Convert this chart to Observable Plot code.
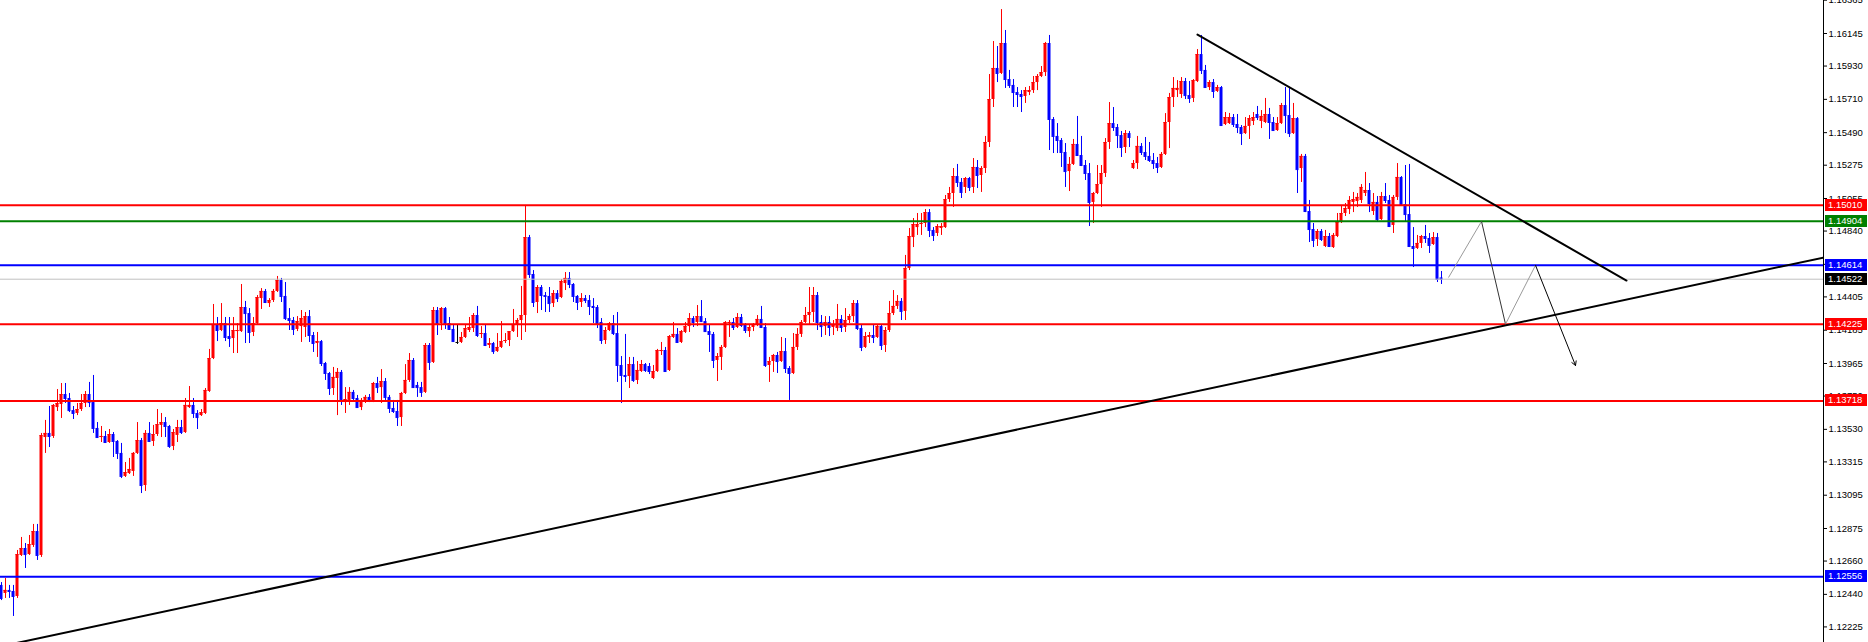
<!DOCTYPE html>
<html><head><meta charset="utf-8">
<script src="https://cdn.jsdelivr.net/npm/d3@7"></script>
<script src="https://cdn.jsdelivr.net/npm/@observablehq/plot@0.6"></script>
<style>body{margin:0;background:#fff}#chart svg{display:block}</style>
</head><body><div id="chart"></div>
<script>
const open = [
1.12499,1.12446,1.12466,1.12459,1.12426,1.12697,1.12743,1.12703,1.12763,1.12855,
1.12697,1.13476,1.13503,1.13483,1.13674,1.13694,1.13760,1.13734,1.13654,1.13635,
1.13661,1.13701,1.13760,1.13707,1.13536,1.13476,1.13483,1.13443,1.13496,1.13450,
1.13371,1.13219,1.13238,1.13252,1.13371,1.13456,1.13159,1.13503,1.13450,1.13496,
1.13556,1.13575,1.13549,1.13417,1.13490,1.13542,1.13509,1.13674,1.13688,1.13635,
1.13621,1.13635,1.13780,1.13998,1.14223,1.14183,1.14229,1.14143,1.14130,1.14176,
1.14176,1.14335,1.14295,1.14170,1.14229,1.14394,1.14441,1.14361,1.14381,1.14441,
1.14513,1.14408,1.14262,1.14249,1.14190,1.14209,1.14203,1.14275,1.14150,1.14097,
1.14110,1.13965,1.13899,1.13800,1.13866,1.13906,1.13707,1.13721,1.13774,1.13734,
1.13674,1.13721,1.13741,1.13721,1.13833,1.13806,1.13846,1.13741,1.13668,1.13648,
1.13608,1.13767,1.13853,1.13985,1.13820,1.13806,1.13774,1.14084,1.13972,1.14315,
1.14229,1.14328,1.14229,1.14190,1.14104,1.14104,1.14137,1.14183,1.14196,1.14282,
1.14157,1.14163,1.14084,1.14097,1.14044,1.14071,1.14110,1.14117,1.14176,1.14223,
1.14249,1.14282,1.14797,1.14553,1.14368,1.14467,1.14414,1.14408,1.14361,1.14427,
1.14401,1.14493,1.14527,1.14487,1.14408,1.14368,1.14394,1.14381,1.14342,1.14335,
1.14236,1.14117,1.14183,1.14229,1.14163,1.13952,1.13886,1.13879,1.13958,1.13853,
1.13912,1.13958,1.13945,1.13866,1.13912,1.14044,1.14051,1.13919,1.14137,1.14157,
1.14104,1.14170,1.14209,1.14262,1.14236,1.14275,1.14242,1.14176,1.14157,1.13985,
1.14005,1.14071,1.14229,1.14236,1.14203,1.14269,1.14216,1.14176,1.14203,1.14223,
1.14256,1.14203,1.13952,1.13978,1.14018,1.13978,1.14044,1.13932,1.13899,1.14071,
1.14157,1.14236,1.14282,1.14302,1.14414,1.14236,1.14209,1.14236,1.14203,1.14196,
1.14256,1.14203,1.14249,1.14275,1.14361,1.14196,1.14071,1.14137,1.14150,1.14137,
1.14209,1.14084,1.14183,1.14295,1.14342,1.14375,1.14309,1.14593,1.14797,1.14863,
1.14883,1.14890,1.14962,1.14844,1.14824,1.14857,1.14863,1.15048,1.15088,1.15200,
1.15161,1.15128,1.15187,1.15128,1.15260,1.15207,1.15253,1.15425,1.15709,1.15914,
1.15881,1.16079,1.15841,1.15802,1.15755,1.15742,1.15729,1.15755,1.15768,1.15821,
1.15861,1.15887,1.16079,1.15577,1.15465,1.15438,1.15359,1.15233,1.15280,1.15412,
1.15339,1.15273,1.15220,1.15029,1.15088,1.15147,1.15220,1.15425,1.15550,1.15524,
1.15471,1.15392,1.15484,1.15253,1.15286,1.15399,1.15359,1.15333,1.15306,1.15286,
1.15260,1.15346,1.15557,1.15722,1.15768,1.15742,1.15828,1.15735,1.15716,1.15828,
1.16006,1.15901,1.15788,1.15821,1.15762,1.15788,1.15544,1.15550,1.15590,1.15544,
1.15524,1.15484,1.15531,1.15564,1.15610,1.15564,1.15557,1.15610,1.15557,1.15504,
1.15550,1.15669,1.15603,1.15484,1.15583,1.15253,1.15333,1.14969,1.14850,1.14784,
1.14837,1.14738,1.14804,1.14731,1.14804,1.14896,1.14956,1.14982,1.15029,1.15035,
1.15042,1.15088,1.15108,1.14969,1.15029,1.14916,1.15068,1.15042,1.14877,1.15062,
1.15194,1.15015,1.14949,1.14738,1.14725,1.14758,1.14804,1.14791,1.14751,1.14797,
1.14530];
const high = [
1.12518,1.12545,1.12499,1.12499,1.12730,1.12816,1.12776,1.12829,1.12902,1.12902,
1.13503,1.13589,1.13681,1.13694,1.13793,1.13833,1.13833,1.13767,1.13681,1.13701,
1.13760,1.13780,1.13840,1.13886,1.13575,1.13549,1.13516,1.13529,1.13509,1.13456,
1.13437,1.13311,1.13338,1.13377,1.13575,1.13470,1.13522,1.13575,1.13556,1.13661,
1.13635,1.13608,1.13556,1.13529,1.13589,1.13589,1.13734,1.13813,1.13734,1.13654,
1.13661,1.13800,1.14058,1.14355,1.14269,1.14361,1.14269,1.14269,1.14269,1.14229,
1.14487,1.14375,1.14328,1.14269,1.14414,1.14460,1.14454,1.14394,1.14454,1.14540,
1.14527,1.14500,1.14328,1.14269,1.14275,1.14315,1.14302,1.14315,1.14170,1.14170,
1.14117,1.13972,1.13906,1.13939,1.13932,1.13919,1.13806,1.13806,1.13787,1.13754,
1.13734,1.13754,1.13760,1.13840,1.13873,1.13925,1.13866,1.13754,1.13721,1.13721,
1.13774,1.13958,1.14031,1.13998,1.13840,1.13840,1.14097,1.14097,1.14335,1.14335,
1.14335,1.14335,1.14269,1.14216,1.14216,1.14170,1.14216,1.14269,1.14295,1.14342,
1.14209,1.14216,1.14130,1.14104,1.14163,1.14242,1.14163,1.14176,1.14322,1.14262,
1.14474,1.15009,1.14811,1.14579,1.14480,1.14480,1.14434,1.14467,1.14447,1.14447,
1.14520,1.14566,1.14566,1.14493,1.14414,1.14427,1.14414,1.14414,1.14394,1.14348,
1.14262,1.14203,1.14236,1.14282,1.14302,1.14011,1.14157,1.14005,1.14005,1.13978,
1.13985,1.13965,1.13965,1.13952,1.14058,1.14104,1.14071,1.14150,1.14236,1.14196,
1.14183,1.14236,1.14295,1.14275,1.14348,1.14381,1.14262,1.14216,1.14170,1.14031,
1.14084,1.14242,1.14249,1.14262,1.14295,1.14289,1.14229,1.14216,1.14229,1.14282,
1.14342,1.14229,1.14005,1.14025,1.14038,1.14137,1.14130,1.13945,1.14163,1.14196,
1.14249,1.14335,1.14467,1.14467,1.14434,1.14282,1.14275,1.14275,1.14249,1.14355,
1.14282,1.14328,1.14289,1.14381,1.14381,1.14216,1.14170,1.14170,1.14216,1.14216,
1.14216,1.14203,1.14375,1.14447,1.14414,1.14394,1.14679,1.14857,1.14923,1.14956,
1.14956,1.14982,1.14982,1.14863,1.14883,1.14890,1.15075,1.15128,1.15253,1.15280,
1.15187,1.15194,1.15194,1.15319,1.15306,1.15266,1.15465,1.15874,1.16092,1.16059,
1.16303,1.16165,1.15901,1.15841,1.15788,1.15768,1.15788,1.15795,1.15861,1.15874,
1.15927,1.16086,1.16132,1.15590,1.15550,1.15451,1.15418,1.15326,1.15445,1.15597,
1.15465,1.15306,1.15286,1.15095,1.15273,1.15273,1.15451,1.15689,1.15656,1.15544,
1.15498,1.15504,1.15498,1.15306,1.15465,1.15418,1.15458,1.15425,1.15352,1.15326,
1.15359,1.15616,1.15749,1.15854,1.15834,1.15854,1.15848,1.15828,1.15841,1.16039,
1.16132,1.15934,1.15834,1.15841,1.15802,1.15795,1.15623,1.15617,1.15610,1.15610,
1.15537,1.15590,1.15603,1.15623,1.15663,1.15636,1.15716,1.15650,1.15590,1.15590,
1.15683,1.15788,1.15782,1.15683,1.15590,1.15346,1.15346,1.15042,1.14890,1.14850,
1.14850,1.14844,1.14824,1.14824,1.14956,1.15009,1.15022,1.15068,1.15095,1.15088,
1.15147,1.15227,1.15154,1.15088,1.15068,1.15095,1.15154,1.15075,1.15075,1.15286,
1.15200,1.15273,1.15280,1.14863,1.14811,1.14811,1.14877,1.14824,1.14830,1.14824,
1.14573];
const low = [
1.12399,1.12413,1.12413,1.12294,1.12413,1.12690,1.12611,1.12697,1.12750,1.12664,
1.12684,1.13371,1.13410,1.13470,1.13648,1.13602,1.13701,1.13641,1.13595,1.13621,
1.13648,1.13674,1.13674,1.13503,1.13470,1.13443,1.13437,1.13437,1.13344,1.13331,
1.13205,1.13212,1.13232,1.13219,1.13364,1.13106,1.13120,1.13443,1.13417,1.13483,
1.13476,1.13476,1.13404,1.13390,1.13443,1.13496,1.13503,1.13668,1.13602,1.13529,
1.13615,1.13628,1.13774,1.13991,1.14110,1.14176,1.14110,1.14071,1.14031,1.14031,
1.14170,1.14097,1.14097,1.14143,1.14223,1.14322,1.14361,1.14335,1.14368,1.14434,
1.14368,1.14249,1.14183,1.14150,1.14176,1.14104,1.14137,1.14104,1.14038,1.14005,
1.13945,1.13853,1.13754,1.13754,1.13621,1.13688,1.13635,1.13688,1.13721,1.13668,
1.13654,1.13701,1.13707,1.13707,1.13767,1.13701,1.13721,1.13635,1.13635,1.13549,
1.13549,1.13760,1.13840,1.13800,1.13741,1.13741,1.13767,1.13919,1.13965,1.14150,
1.14183,1.14190,1.14183,1.14104,1.14091,1.14097,1.14130,1.14170,1.14170,1.14137,
1.14130,1.14077,1.14064,1.14025,1.14038,1.14064,1.14097,1.14077,1.14170,1.14137,
1.14117,1.14170,1.14527,1.14335,1.14295,1.14315,1.14302,1.14302,1.14335,1.14368,
1.14394,1.14447,1.14460,1.14368,1.14315,1.14335,1.14361,1.14282,1.14229,1.14196,
1.14091,1.14091,1.14176,1.14150,1.13840,1.13701,1.13840,1.13800,1.13840,1.13826,
1.13906,1.13906,1.13892,1.13859,1.13906,1.14018,1.13906,1.13912,1.14130,1.14097,
1.14097,1.14163,1.14170,1.14203,1.14209,1.14236,1.14170,1.14038,1.13932,1.13846,
1.13919,1.14064,1.14137,1.14183,1.14196,1.14203,1.14163,1.14137,1.14176,1.14209,
1.14196,1.13939,1.13840,1.13906,1.13899,1.13972,1.13899,1.13721,1.13892,1.14051,
1.14137,1.14229,1.14223,1.14236,1.14183,1.14137,1.14150,1.14143,1.14150,1.14176,
1.14170,1.14170,1.14229,1.14236,1.14183,1.14044,1.14064,1.14097,1.14097,1.14130,
1.14051,1.14038,1.14170,1.14282,1.14322,1.14249,1.14249,1.14579,1.14731,1.14811,
1.14811,1.14863,1.14797,1.14771,1.14804,1.14811,1.14857,1.15029,1.14996,1.15128,
1.15055,1.15088,1.15101,1.15088,1.15121,1.15095,1.15220,1.15392,1.15656,1.15821,
1.15874,1.15782,1.15782,1.15656,1.15656,1.15623,1.15683,1.15735,1.15749,1.15768,
1.15854,1.15861,1.15372,1.15352,1.15352,1.15260,1.15128,1.15101,1.15273,1.15333,
1.15266,1.15174,1.14870,1.14890,1.15081,1.14996,1.15194,1.15379,1.15498,1.15385,
1.15326,1.15352,1.15392,1.15247,1.15247,1.15339,1.15306,1.15293,1.15247,1.15220,
1.15253,1.15339,1.15385,1.15656,1.15722,1.15716,1.15709,1.15683,1.15689,1.15821,
1.15874,1.15782,1.15768,1.15716,1.15755,1.15531,1.15537,1.15544,1.15524,1.15484,
1.15405,1.15478,1.15445,1.15537,1.15570,1.15517,1.15550,1.15445,1.15498,1.15498,
1.15544,1.15484,1.15458,1.15478,1.15088,1.15161,1.14962,1.14764,1.14731,1.14738,
1.14771,1.14731,1.14731,1.14725,1.14797,1.14890,1.14936,1.14949,1.14962,1.14996,
1.15022,1.15068,1.14962,1.14943,1.14903,1.14910,1.15022,1.14863,1.14824,1.15042,
1.15009,1.14903,1.14731,1.14599,1.14718,1.14725,1.14758,1.14692,1.14745,1.14500,
1.14487];
const close = [
1.12413,1.12466,1.12459,1.12426,1.12703,1.12743,1.12703,1.12769,1.12855,1.12697,
1.13489,1.13503,1.13483,1.13688,1.13701,1.13760,1.13734,1.13654,1.13635,1.13661,
1.13701,1.13760,1.13707,1.13536,1.13476,1.13483,1.13443,1.13496,1.13450,1.13371,
1.13219,1.13245,1.13265,1.13371,1.13456,1.13159,1.13503,1.13450,1.13496,1.13562,
1.13575,1.13549,1.13417,1.13509,1.13542,1.13509,1.13688,1.13688,1.13635,1.13608,
1.13641,1.13787,1.13998,1.14223,1.14183,1.14229,1.14137,1.14130,1.14183,1.14183,
1.14335,1.14295,1.14170,1.14229,1.14401,1.14441,1.14368,1.14381,1.14441,1.14513,
1.14408,1.14262,1.14249,1.14190,1.14242,1.14262,1.14275,1.14150,1.14097,1.14110,
1.13965,1.13899,1.13800,1.13873,1.13906,1.13721,1.13727,1.13774,1.13734,1.13674,
1.13721,1.13741,1.13721,1.13833,1.13806,1.13846,1.13741,1.13668,1.13648,1.13608,
1.13767,1.13853,1.13985,1.13806,1.13806,1.13774,1.14084,1.13972,1.14315,1.14223,
1.14328,1.14229,1.14190,1.14110,1.14104,1.14137,1.14196,1.14203,1.14282,1.14150,
1.14163,1.14084,1.14097,1.14044,1.14071,1.14110,1.14117,1.14176,1.14223,1.14249,
1.14282,1.14797,1.14553,1.14368,1.14467,1.14414,1.14408,1.14361,1.14427,1.14394,
1.14507,1.14527,1.14487,1.14408,1.14368,1.14394,1.14381,1.14342,1.14335,1.14223,
1.14117,1.14183,1.14229,1.14163,1.13952,1.13886,1.13879,1.13958,1.13853,1.13919,
1.13958,1.13919,1.13912,1.13912,1.14051,1.14051,1.13912,1.14143,1.14157,1.14104,
1.14176,1.14209,1.14262,1.14236,1.14275,1.14242,1.14176,1.14157,1.13985,1.14011,
1.14071,1.14236,1.14236,1.14203,1.14269,1.14216,1.14183,1.14203,1.14223,1.14256,
1.14203,1.13952,1.13978,1.14018,1.13978,1.14044,1.13932,1.13899,1.14071,1.14157,
1.14236,1.14282,1.14302,1.14414,1.14236,1.14209,1.14236,1.14203,1.14216,1.14256,
1.14203,1.14249,1.14275,1.14361,1.14196,1.14071,1.14143,1.14150,1.14137,1.14209,
1.14084,1.14183,1.14295,1.14342,1.14375,1.14309,1.14593,1.14804,1.14883,1.14883,
1.14890,1.14962,1.14844,1.14811,1.14870,1.14870,1.15048,1.15088,1.15200,1.15161,
1.15095,1.15187,1.15128,1.15260,1.15207,1.15253,1.15425,1.15709,1.15914,1.15881,
1.16079,1.15841,1.15802,1.15755,1.15742,1.15729,1.15768,1.15768,1.15821,1.15861,
1.15887,1.16079,1.15577,1.15465,1.15438,1.15359,1.15233,1.15280,1.15412,1.15339,
1.15273,1.15220,1.15029,1.15088,1.15147,1.15220,1.15425,1.15550,1.15524,1.15471,
1.15392,1.15484,1.15458,1.15286,1.15399,1.15359,1.15333,1.15306,1.15286,1.15260,
1.15346,1.15557,1.15722,1.15782,1.15782,1.15828,1.15735,1.15716,1.15834,1.16006,
1.15901,1.15788,1.15821,1.15762,1.15788,1.15537,1.15590,1.15590,1.15544,1.15524,
1.15484,1.15531,1.15583,1.15590,1.15590,1.15597,1.15610,1.15557,1.15504,1.15550,
1.15669,1.15603,1.15484,1.15583,1.15246,1.15333,1.14969,1.14850,1.14778,1.14837,
1.14784,1.14804,1.14738,1.14811,1.14896,1.14956,1.14989,1.15042,1.15048,1.15062,
1.15128,1.15108,1.15022,1.15029,1.14916,1.15068,1.15042,1.14870,1.15062,1.15194,
1.15015,1.14949,1.14738,1.14725,1.14758,1.14804,1.14791,1.14745,1.14797,1.14520,
1.14522];

// right price axis tick labels
const tickValues = [1.16365,1.16145,1.15930,1.15710,1.15490,1.15275,1.15055,1.14840,1.14620,1.14405,
  1.14185,1.13965,1.13750,1.13530,1.13315,1.13095,1.12875,1.12660,1.12440,1.12225];

// horizontal price levels
const levels = [1.15010, 1.14904, 1.14614, 1.14522, 1.14225, 1.13718, 1.12556];
const levelNames = ["resistance", "green", "blue", "bid", "support1", "support2", "blueLow"];

// trend lines (bar index, price)
const trendUp = [{i: -0.25, p: 1.12096}, {i: 455.5, p: 1.14665}];
const trendDown = [{i: 299, p: 1.16138}, {i: 406.25, p: 1.14513}];
// projected path (bar index, price)
const projection = [
  {i: 361.75, p: 1.14533}, {i: 370, p: 1.14904}, {i: 376, p: 1.14225},
  {i: 383.5, p: 1.14614}, {i: 393.5, p: 1.13952}
];

const W = 1868, H = 642, MR = 45;
const xDomain = [-0.25, 455.5];
const yDomain = [1.12122, 1.16363];

const levelStroke = {resistance:"#ff0000", green:"#008000", blue:"#0000ff", bid:"#c0c0c0", support1:"#ff0000", support2:"#ff0000", blueLow:"#0000ff"};
const levelBox = {resistance:"#ff0000", green:"#008000", blue:"#0000ff", bid:"#000000", support1:"#ff0000", support2:"#ff0000", blueLow:"#0000ff"};
const levelData = levels.map((v, k) => ({v, name: levelNames[k]}));

const candles = open.map((o, k) => ({i: k, o, h: high[k], l: low[k], c: close[k]}));
const col = d => d.c > d.o ? "#ff0000" : d.c < d.o ? "#0000ff" : "#000000";

const segs = d3.pairs(projection);
const segStroke = ["#9a9a9a", "#333333", "#9a9a9a"];

const chart = Plot.plot({
  width: W, height: H,
  marginLeft: 0, marginRight: MR, marginTop: 0, marginBottom: 0,
  x: {domain: xDomain, axis: null},
  y: {domain: yDomain, axis: null},
  style: {background: "#ffffff", fontFamily: "'Liberation Sans', Arial, sans-serif", fontSize: "9.5px", color: "#000"},
  marks: [
    Plot.ruleX(candles, {x: "i", y1: "l", y2: "h", stroke: col, strokeWidth: 1}),
    Plot.rect(candles, {x1: d => d.i - 0.375, x2: d => d.i + 0.375, y1: "o", y2: "c", fill: col}),
    Plot.ruleY(candles, {x1: d => d.i - 0.375, x2: d => d.i + 0.375, y: "c", stroke: col, strokeWidth: 1}),
    Plot.ruleY(levelData, {y: "v", stroke: d => levelStroke[d.name], strokeWidth: d => d.name === "bid" ? 1 : 2}),
    Plot.line(trendUp, {x: "i", y: "p", stroke: "#000", strokeWidth: 2, clip: true}),
    Plot.line(trendDown, {x: "i", y: "p", stroke: "#000", strokeWidth: 2}),
    Plot.link(segs.slice(0, 3), {x1: d => d[0].i, y1: d => d[0].p, x2: d => d[1].i, y2: d => d[1].p,
      stroke: (d, k) => segStroke[k], strokeWidth: 1}),
    Plot.arrow(segs.slice(3), {x1: d => d[0].i, y1: d => d[0].p, x2: d => d[1].i, y2: d => d[1].p,
      stroke: "#000", strokeWidth: 1, headLength: 7}),
    Plot.ruleX([xDomain[1]], {stroke: "#000", strokeWidth: 1}),
    Plot.axisY(tickValues, {anchor: "right", tickSize: 3, tickPadding: 2, tickFormat: d3.format(".5f"),
      fill: "#000", stroke: "#000", fontSize: 9.5})
  ]
});
document.getElementById("chart").appendChild(chart);

// coloured price labels on the axis for each level
const ys = chart.scale("y");
const svg = d3.select(chart);
const g = svg.append("g")
  .attr("font-family", "'Liberation Sans', Arial, sans-serif")
  .attr("font-size", 9.5)
  .attr("text-anchor", "start")
  .style("text-anchor", "start");
levelData.forEach(d => {
  const yy = Math.round(ys.apply(d.v));
  g.append("rect").attr("x", W - MR + 2).attr("y", yy - 6).attr("width", 42).attr("height", 12)
    .attr("fill", levelBox[d.name]);
  g.append("text").attr("x", W - MR + 5).attr("y", yy).attr("dy", "0.35em")
    .attr("text-anchor", "start").style("text-anchor", "start")
    .attr("fill", "#fff").text(d3.format(".5f")(d.v));
});
</script>
</body></html>
